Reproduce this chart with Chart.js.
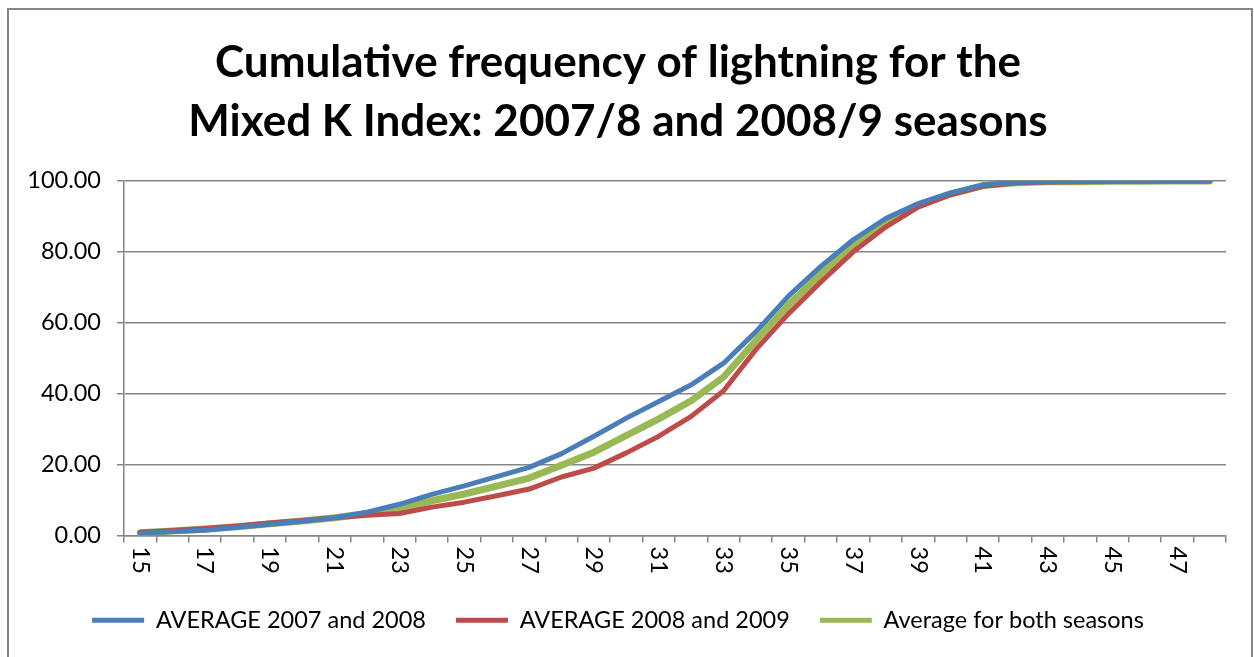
<!DOCTYPE html>
<html>
<head>
<meta charset="utf-8">
<script src="https://cdn.jsdelivr.net/npm/chart.js@4/dist/chart.umd.min.js"></script>
<style>
  html, body { margin: 0; padding: 0; background: #ffffff; }
  #wrap { width: 1254px; height: 657px; }
</style>
</head>
<body>
<div id="wrap"><canvas id="lightningChart" width="1254" height="657"></canvas></div>
<script>
// ------------------------------
// Data
// ------------------------------

const kIndex = [15, 16, 17, 18, 19, 20, 21, 22, 23, 24, 25, 26, 27, 28, 29, 30, 31,
                32, 33, 34, 35, 36, 37, 38, 39, 40, 41, 42, 43, 44, 45, 46, 47, 48];

const avg2007and2008 = [0.6, 1.1, 1.5, 2.3, 3.2, 4.0, 5.0, 6.6, 8.8, 11.6, 14.0, 16.6,
                        19.2, 23.1, 28.0, 33.1, 37.8, 42.5, 48.6, 57.5, 67.5, 75.9,
                        83.4, 89.4, 93.6, 96.6, 98.9, 99.6, 99.8, 99.9, 99.9, 100, 100, 100];

const avg2008and2009 = [0.9, 1.4, 2.0, 2.7, 3.5, 4.2, 5.0, 5.7, 6.2, 8.0, 9.4, 11.2,
                        13.1, 16.5, 19.0, 23.3, 28.0, 33.6, 40.8, 52.5, 62.5, 71.5,
                        80.0, 87.0, 92.6, 96.1, 98.5, 99.4, 99.7, 99.8, 99.9, 99.9, 100, 100];

const avgBothSeasons = [0.8, 1.3, 1.8, 2.5, 3.3, 4.1, 5.0, 6.2, 7.5, 9.8, 11.7, 13.9,
                        16.2, 19.8, 23.5, 28.2, 32.9, 38.0, 44.7, 55.0, 65.0, 73.7,
                        81.7, 88.2, 93.1, 96.3, 98.7, 99.5, 99.8, 99.8, 99.9, 99.9, 100, 100];

const yTicks = [0, 20, 40, 60, 80, 100];

const gridGray = "#868686";
const labelFont = "Lato";

// ------------------------------
// Frame + rotated x labels
// ------------------------------

const framePlugin = {
    id: "frame",
    beforeDraw(chart) {
        const ctx = chart.ctx;
        ctx.save();
        ctx.strokeStyle = gridGray;
        ctx.lineWidth = 2;
        ctx.strokeRect(8, 9, 1244, 700);
        ctx.restore();
    }
};

const xLabelPlugin = {
    id: "xLabels",
    afterDraw(chart) {
        const ctx = chart.ctx;
        const xScale = chart.scales.x;
        const top = chart.chartArea.bottom + 11;
        ctx.save();
        ctx.fillStyle = "#000000";
        ctx.font = "23.5px " + labelFont;
        ctx.textAlign = "left";
        ctx.textBaseline = "middle";
        kIndex.forEach((k, i) => {
            if (i % 2 !== 0) return;
            ctx.save();
            ctx.translate(xScale.getPixelForValue(i), top);
            ctx.rotate(Math.PI / 2);
            ctx.fillText(String(k), 0, 0);
            ctx.restore();
        });
        ctx.restore();
    }
};

// ------------------------------
// Cumulative frequency (Line)
// ------------------------------

const lightningChart = new Chart(document.getElementById("lightningChart"), {

    type: "line",

    data: {

        labels: kIndex,

        datasets: [
            {
                label: "AVERAGE 2007 and 2008",
                data: avg2007and2008,
                borderColor: "#4A7EBB",
                backgroundColor: "#4A7EBB",
                borderWidth: 5
            },
            {
                label: "AVERAGE 2008 and 2009",
                data: avg2008and2009,
                borderColor: "#BE4B48",
                backgroundColor: "#BE4B48",
                borderWidth: 5
            },
            {
                label: "Average for both seasons",
                data: avgBothSeasons,
                borderColor: "#98B954",
                backgroundColor: "#98B954",
                borderWidth: 7
            }
        ]

    },

    options: {

        responsive: false,
        animation: false,

        elements: {
            point: { radius: 0, hoverRadius: 0 },
            line: { tension: 0, borderCapStyle: "round", borderJoinStyle: "round" }
        },

        layout: {
            padding: { left: 10, right: 28, top: 0, bottom: 15 }
        },

        plugins: {

            title: {
                display: true,
                text: [
                    "Cumulative frequency of lightning for the",
                    "Mixed K Index: 2007/8 and 2008/9 seasons"
                ],
                color: "#000000",
                font: { family: labelFont, size: 44, weight: "bold", lineHeight: 1.34 },
                padding: { top: 33, bottom: 30 }
            },

            legend: {
                position: "bottom",
                labels: {
                    color: "#000000",
                    font: { family: labelFont, size: 23.5 },
                    boxWidth: 52,
                    boxHeight: 5,
                    padding: 30,
                    generateLabels(chart) {
                        return Chart.defaults.plugins.legend.labels.generateLabels(chart)
                            .map(item => Object.assign(item, { lineWidth: 0 }));
                    }
                }
            },

            tooltip: { enabled: false }

        },

        scales: {

            x: {
                offset: true,
                grid: {
                    offset: true,
                    drawOnChartArea: false,
                    drawTicks: true,
                    tickLength: 7,
                    color: gridGray,
                    lineWidth: 1.5
                },
                border: { color: gridGray, width: 1.5 },
                ticks: { display: false },
                afterFit(scale) { scale.height = 43; }
            },

            y: {
                min: 0,
                max: 100,
                afterBuildTicks(scale) {
                    scale.ticks = yTicks.map(v => ({ value: v }));
                },
                grid: {
                    color: gridGray,
                    lineWidth: 1.5,
                    drawTicks: true,
                    tickLength: 7
                },
                border: { color: gridGray, width: 1.5 },
                ticks: {
                    color: "#000000",
                    font: { family: labelFont, size: 23.5 },
                    padding: 16,
                    callback: v => Number(v).toFixed(2)
                },
                afterFit(scale) { scale.width = 114; }
            }

        }

    },

    plugins: [framePlugin, xLabelPlugin]

});
</script>
</body>
</html>
